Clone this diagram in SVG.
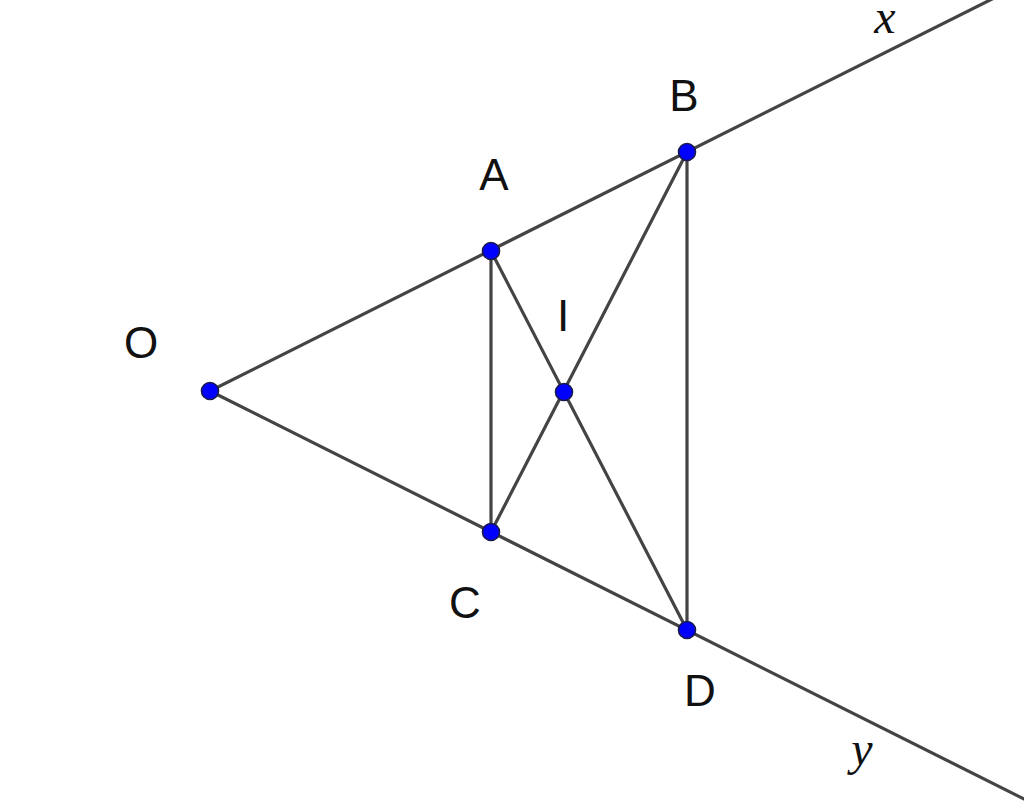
<svg xmlns="http://www.w3.org/2000/svg" width="1024" height="808" viewBox="0 0 1024 808">
<style>
.ln{stroke:#444;stroke-width:3.2;fill:none;stroke-linecap:round}
.pt{fill:#0000ff;stroke:#1a1a4d;stroke-width:1.6}
.lb{font-family:"Liberation Sans",Arial,sans-serif;font-size:44px;fill:#111;text-anchor:middle}
.var{font-family:"Liberation Serif","Times New Roman",serif;font-style:italic;font-size:48px;fill:#111;text-anchor:middle}
</style>
<rect width="1024" height="808" fill="#fff"/>
<g id="connectors">
<line class="ln" x1="210" y1="391" x2="1040" y2="-25"/>
<line class="ln" x1="210" y1="391" x2="1040" y2="807"/>
<line class="ln" x1="491" y1="251" x2="491" y2="532"/>
<line class="ln" x1="687" y1="152" x2="687" y2="630"/>
<line class="ln" x1="491" y1="251" x2="687" y2="630"/>
<line class="ln" x1="687" y1="152" x2="491" y2="532"/>
</g>
<g id="O"><circle class="pt" cx="210" cy="391" r="8.5"/><text class="lb" x="141" y="358">O</text></g>
<g id="A"><circle class="pt" cx="491" cy="251" r="8.5"/><text class="lb" x="494" y="190">A</text></g>
<g id="B"><circle class="pt" cx="687" cy="152" r="8.5"/><text class="lb" x="684" y="111">B</text></g>
<g id="I"><circle class="pt" cx="564" cy="392" r="8.5"/><text class="lb" x="563" y="331">I</text></g>
<g id="C"><circle class="pt" cx="491" cy="532" r="8.5"/><text class="lb" x="465" y="618">C</text></g>
<g id="D"><circle class="pt" cx="687" cy="630" r="8.5"/><text class="lb" x="700" y="706">D</text></g>
<g id="x"><text class="var" x="885" y="33">x</text></g>
<g id="y"><text class="var" x="862" y="765">y</text></g>
</svg>
